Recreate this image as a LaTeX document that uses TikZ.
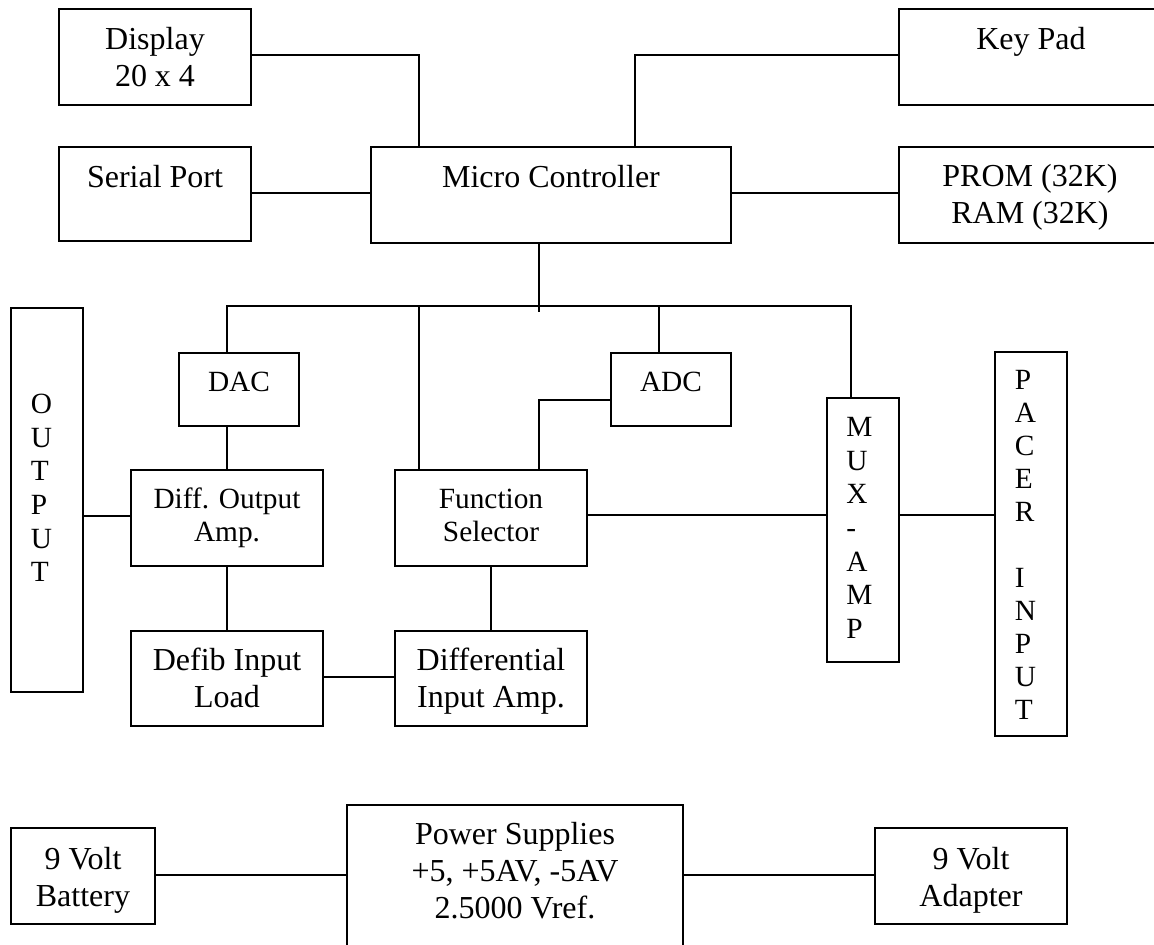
\documentclass[tikz,border=0pt]{standalone}
\usepackage{fontspec}
\setmainfont{Liberation Serif}
\newcommand\bx[5]{\node[boxst, minimum width=#4*0.75pt, minimum height=#5*0.75pt] (#1) at (#2,#3) {};}
\begin{document}
\begin{tikzpicture}[x=0.75pt,y=-0.75pt,
  boxst/.style={draw, line width=1.4pt, inner sep=0pt, outer sep=0pt},
  conn/.style={line width=1.1pt},
  big/.style={font=\fontsize{24}{27.75}\selectfont, align=center, inner sep=0pt},
  small/.style={font=\fontsize{22}{25.3}\selectfont, align=center, inner sep=0pt},
  vert/.style={font=\fontsize{22}{25.3}\selectfont, align=left, inner sep=0pt, anchor=north west}]
\useasboundingbox (0,0) rectangle (1154,945);
\clip (0,0) rectangle (1154,945);
% boxes
\bx{display}{155}{57}{192.8}{96}
\bx{keypad}{1031}{57}{264}{96}
\bx{serial}{155}{194}{192.8}{94}
\bx{micro}{551}{195}{360}{96}
\bx{prom}{1031}{195}{264}{96}
\bx{output}{47}{500}{72}{384}
\bx{dac}{239}{389.5}{120}{73}
\bx{adc}{671}{389.5}{120}{73}
\bx{diffout}{227}{518}{192}{96}
\bx{fs}{491}{518}{192}{96}
\bx{mux}{863}{530}{72}{264}
\bx{pacer}{1031}{544}{72}{384}
\bx{defib}{227}{678.5}{192}{95}
\bx{diffin}{491}{678.5}{192}{95}
\bx{battery}{83}{876}{144}{96}
\bx{power}{515}{905}{336}{200}
\bx{adapter}{971}{876}{192}{96}
% texts
\node[big] (tdisplay) at (155,60.6) {\strut Display\\20 x 4\strut};
\node[big] (tkeypad) at (1031,42.6) {\strut Key Pad\strut};
\node[big] (tserial) at (155,180.6) {\strut Serial Port\strut};
\node[big] (tmicro) at (551,180.6) {\strut Micro Controller\strut};
\node[big] (tprom) at (1030,198.1) {\strut PROM (32K)\\RAM (32K)\strut};
\node[small] (tdac) at (239,385.25) {\strut DAC\strut};
\node[small] (tadc) at (671,385.25) {\strut ADC\strut};
\node[small] (tdiffout) at (227,518.25) {\strut Diff. Output\\Amp.\strut};
\node[small] (tfs) at (491,518.25) {\strut Function\\Selector\strut};
\node[big] (tdefib) at (227,681.1) {\strut Defib Input\\Load\strut};
\node[big] (tdiffin) at (491,681.1) {\strut Differential\\Input Amp.\strut};
\node[big] (tbattery) at (83,880.1) {\strut 9 Volt\\Battery\strut};
\node[big] (tadapter) at (971,880.1) {\strut 9 Volt\\Adapter\strut};
\node[big] (tpower) at (515,873.6) {\strut Power Supplies\\+5, +5AV, -5AV\\2.5000 Vref.\strut};
\node[vert] (toutput) at (30.5,389.4) {\strut O\\U\\T\\P\\U\\T\strut};
\node[vert] (tmux) at (846,412.4) {\strut M\\U\\X\\-\\A\\M\\P\strut};
\node[vert, font=\fontsize{22}{24.75}\selectfont] (tpacer) at (1014.5,365.9) {\strut P\\A\\C\\E\\R\\\mbox{}\\I\\N\\P\\U\\T\strut};
% bus coordinates
\coordinate (busL) at (227,306);
\coordinate (busR) at (851,306);
\coordinate (bus2) at (419,306);
\coordinate (bus3) at (659,306);
\coordinate (tap) at (539,312);
% connectors
\draw[conn] (display.east |- 0,55) -| (micro.north -| 419,0);
\draw[conn] (keypad.west |- 0,55) -| (micro.north -| 635,0);
\draw[conn] (serial.east |- 0,193) -- (micro.west |- 0,193);
\draw[conn] (micro.east |- 0,193) -- (prom.west |- 0,193);
\draw[conn] (micro.south -| tap) -- (tap);
\draw[conn] (dac.north -| busL) -- (busL) -- (busR) -- (mux.north -| busR);
\draw[conn] (fs.north -| bus2) -- (bus2);
\draw[conn] (adc.north -| bus3) -- (bus3);
\draw[conn] (dac.south -| busL) -- (diffout.north -| busL);
\draw[conn] (output.east |- 0,516) -- (diffout.west |- 0,516);
\draw[conn] (fs.north -| 539,0) |- (adc.west |- 0,400);
\draw[conn] (fs.east |- 0,515) -- (mux.west |- 0,515);
\draw[conn] (mux.east |- 0,515) -- (pacer.west |- 0,515);
\draw[conn] (diffout.south) -- (defib.north);
\draw[conn] (fs.south) -- (diffin.north);
\draw[conn] (defib.east |- 0,677) -- (diffin.west |- 0,677);
\draw[conn] (battery.east |- 0,875) -- (power.west |- 0,875);
\draw[conn] (power.east |- 0,875) -- (adapter.west |- 0,875);
\end{tikzpicture}
\end{document}
